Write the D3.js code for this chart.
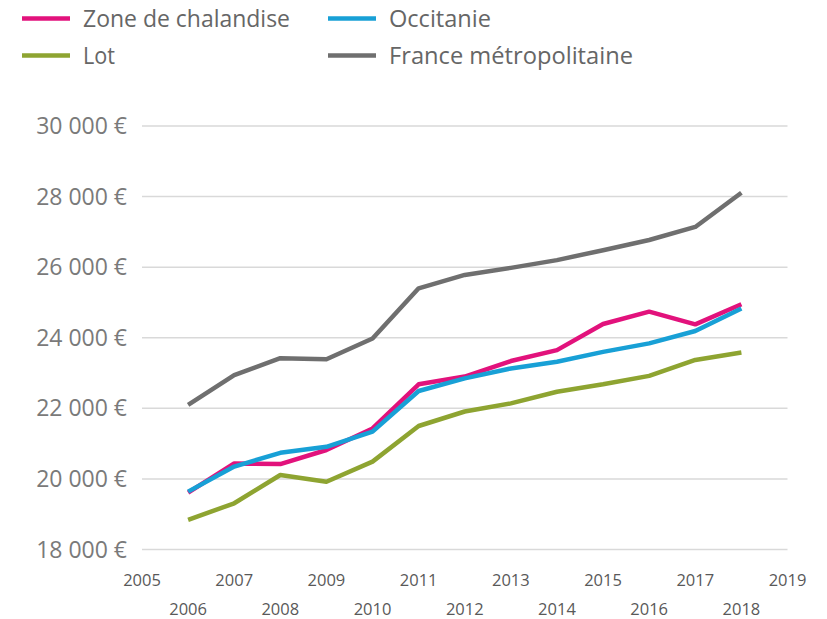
<script src="https://cdn.jsdelivr.net/npm/d3@7"></script>
<style>
  body { margin: 0; background: #fff; }
</style>
<svg width="827" height="619"></svg>
<script>
  // Data
  const years = [2006, 2007, 2008, 2009, 2010, 2011, 2012, 2013, 2014, 2015, 2016, 2017, 2018];
  const zone = [19610, 20440, 20420, 20820, 21430, 22680, 22900, 23340, 23650, 24390, 24740, 24380, 24950];
  const occitanie = [19640, 20350, 20740, 20910, 21340, 22490, 22850, 23130, 23320, 23600, 23840, 24190, 24830];
  const lot = [18840, 19310, 20110, 19920, 20490, 21500, 21910, 22140, 22470, 22680, 22920, 23370, 23580];
  const france = [22100, 22940, 23420, 23390, 23980, 25400, 25780, 25980, 26200, 26480, 26770, 27140, 28110];
  const yTicks = [18000, 20000, 22000, 24000, 26000, 28000, 30000];
  const xTicks = d3.range(2005, 2020);

  const series = [
    { name: 'Zone de chalandise', values: zone, color: '#e2127c' },
    { name: 'Occitanie', values: occitanie, color: '#18a0d6' },
    { name: 'Lot', values: lot, color: '#8ea431' },
    { name: 'France métropolitaine', values: france, color: '#6f6f6f' }
  ];

  const svg = d3.select('svg');
  const x = d3.scaleLinear().domain([2005, 2019]).range([142, 787.5]);
  const y = d3.scaleLinear().domain([18000, 30000]).range([549.5, 126]);
  const fmt = v => d3.format(',')(v).replace(',', ' ') + ' €';

  // Gridlines
  svg.append('g')
    .selectAll('line')
    .data(yTicks)
    .join('line')
    .attr('x1', x(2005))
    .attr('x2', x(2019))
    .attr('y1', d => y(d))
    .attr('y2', d => y(d))
    .attr('stroke', '#d9d9d9')
    .attr('stroke-width', 1.5);

  // Y labels
  svg.append('g')
    .selectAll('text')
    .data(yTicks)
    .join('text')
    .attr('x', 127)
    .attr('y', d => y(d) + 8)
    .attr('text-anchor', 'end')
    .style('font-family', 'Open Sans')
    .style('font-size', '23px')
    .style('fill', '#7a7a7a')
    .text(fmt);

  // X labels, alternating rows
  svg.append('g')
    .selectAll('text')
    .data(xTicks)
    .join('text')
    .attr('x', d => x(d))
    .attr('y', d => d % 2 === 1 ? 586 : 615)
    .attr('text-anchor', 'middle')
    .style('font-family', 'Open Sans')
    .style('font-size', '16.5px')
    .style('fill', '#595959')
    .text(d => d);

  // Lines
  const line = d3.line()
    .x((d, i) => x(years[i]))
    .y(d => y(d));

  svg.append('g')
    .selectAll('path')
    .data(series)
    .join('path')
    .attr('d', d => line(d.values))
    .attr('fill', 'none')
    .attr('stroke', d => d.color)
    .attr('stroke-width', 4.5)
    .attr('stroke-linejoin', 'round');

  // Legend
  const legendPos = [[22, 18.5], [328, 18.5], [22, 55.5], [328, 55.5]];
  const legendW = [207, 102, 32, 244];
  const legend = svg.append('g')
    .selectAll('g')
    .data(series)
    .join('g')
    .attr('transform', (d, i) => `translate(${legendPos[i][0]},${legendPos[i][1]})`);

  legend.append('line')
    .attr('x1', 0)
    .attr('x2', 48)
    .attr('stroke', d => d.color)
    .attr('stroke-width', 4.5);

  legend.append('text')
    .attr('x', 61)
    .attr('y', 8.5)
    .attr('textLength', (d, i) => legendW[i])
    .attr('lengthAdjust', 'spacingAndGlyphs')
    .style('font-family', 'Open Sans')
    .style('font-size', '24px')
    .style('fill', '#666')
    .text(d => d.name);
</script>
